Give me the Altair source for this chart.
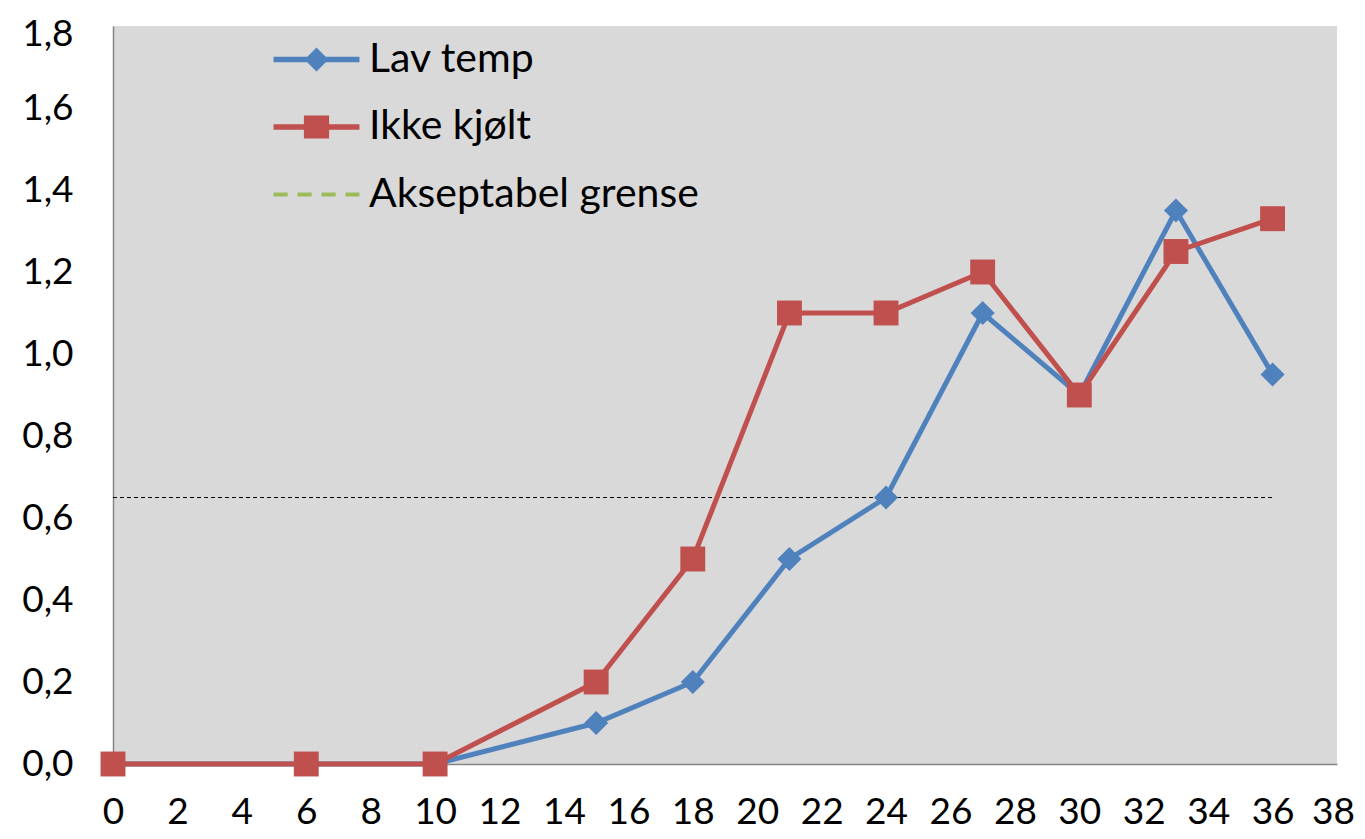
import altair as alt
import pandas as pd

# ---- data ----
times = [0, 6, 10, 15, 18, 21, 24, 27, 30, 33, 36]
lav_temp = [0.0, 0.0, 0.0, 0.1, 0.2, 0.5, 0.65, 1.1, 0.9, 1.35, 0.95]
ikke_kjolt = [0.0, 0.0, 0.0, 0.2, 0.5, 1.1, 1.1, 1.2, 0.9, 1.25, 1.33]
limit_value = 0.65
limit_start = 0
limit_end = 36

series_names = ["Lav temp", "Ikke kjølt", "Akseptabel grense"]
series_colors = ["#4F81BD", "#C0504D", "#9BBB59"]

x_ticks = list(range(0, 40, 2))
y_ticks = [0.0, 0.2, 0.4, 0.6, 0.8, 1.0, 1.2, 1.4, 1.6, 1.8]

FONT = "Lato"

# legend symbols: line + marker (custom paths in symbol units)
L = 3.58
h = 0.22
diamond_sym = (f"M{-L},{-h}H{L}V{h}H{-L}Z "
               "M0,-1.0L1.0,0L0,1.0L-1.0,0Z")
square_sym = (f"M{-L},{-h}H{L}V{h}H{-L}Z "
              "M-1.05,-0.95H1.05V0.95H-1.05Z")
dh = 0.17
dash_sym = " ".join(
    f"M{a},{-dh}H{b}V{dh}H{a}Z"
    for a, b in [(-3.58, -2.41), (-1.58, -0.41), (0.42, 1.59), (2.42, 3.58)]
)
series_symbols = [diamond_sym, square_sym, dash_sym]

df_lav = pd.DataFrame({"t": times, "v": lav_temp, "serie": "Lav temp"})
df_ikke = pd.DataFrame({"t": times, "v": ikke_kjolt, "serie": "Ikke kjølt"})
df_limit = pd.DataFrame({"t": [limit_start], "t2": [limit_end], "v": [limit_value]})
df_legend = pd.DataFrame({"t": [float("nan")] * 3, "v": [float("nan")] * 3,
                          "serie": series_names})

x_enc = alt.X("t:Q", scale=alt.Scale(domain=[0, 38], nice=False, zero=False),
              axis=alt.Axis(values=x_ticks, title=None, grid=False, ticks=False,
                            domainColor="#868686", domainWidth=1.5,
                            labelFont=FONT, labelFontSize=37, labelColor="#000000",
                            labelPadding=30, labelFlush=False,
                            labelOffset={"condition": {"test": "datum.value == 38", "value": -4},
                                         "value": 0}))
y_enc = alt.Y("v:Q", scale=alt.Scale(domain=[0, 1.8], nice=False),
              axis=alt.Axis(values=y_ticks, title=None, grid=False, ticks=False,
                            domainColor="#868686", domainWidth=1.5,
                            labelFont=FONT, labelFontSize=37, labelColor="#000000",
                            labelPadding=40, labelFlush=False,
                            labelOffset={"condition": {"test": "datum.value == 1.8", "value": 8},
                                         "value": 0},
                            labelExpr="replace(format(datum.value, '.1f'), '.', ',')"))

line_lav = alt.Chart(df_lav).mark_line(color="#4F81BD", strokeWidth=5).encode(x=x_enc, y=y_enc)
pts_lav = alt.Chart(df_lav).mark_point(shape="diamond", filled=True, size=580,
                                       color="#4F81BD", opacity=1).encode(x="t:Q", y="v:Q")
line_ikke = alt.Chart(df_ikke).mark_line(color="#C0504D", strokeWidth=5).encode(x="t:Q", y="v:Q")
pts_ikke = alt.Chart(df_ikke).mark_point(shape="square", filled=True, size=620,
                                         color="#C0504D", opacity=1).encode(x="t:Q", y="v:Q")

limit_rule = alt.Chart(df_limit).mark_rule(color="#000000", strokeWidth=1,
                                           strokeDash=[4, 3]).encode(
    x="t:Q", x2="t2:Q", y="v:Q")

legend = alt.Legend(title=None, orient="none", legendX=183, legendY=13,
                    labelFont=FONT, labelFontSize=41, labelColor="#000000",
                    labelLimit=0,
                    symbolSize=576, symbolStrokeWidth=0, labelOffset=32,
                    rowPadding=25.5, padding=0, symbolOpacity=1)

legend_layer = alt.Chart(df_legend).mark_point(filled=True, size=576).encode(
    x="t:Q", y="v:Q",
    color=alt.Color("serie:N", scale=alt.Scale(domain=series_names, range=series_colors),
                    legend=legend),
    shape=alt.Shape("serie:N", scale=alt.Scale(domain=series_names, range=series_symbols),
                    legend=legend),
)

chart = alt.layer(
    limit_rule, line_lav, pts_lav, line_ikke, pts_ikke, legend_layer
).properties(
    width=1224, height=738,
    autosize=alt.AutoSizeParams(type="none"),
    padding={"left": 105, "top": 18, "right": 20, "bottom": 67},
    background="#FFFFFF",
).configure_view(fill="#D9D9D9", stroke=None)

chart.save("out.html", embed_options={"renderer": "svg", "actions": False})
